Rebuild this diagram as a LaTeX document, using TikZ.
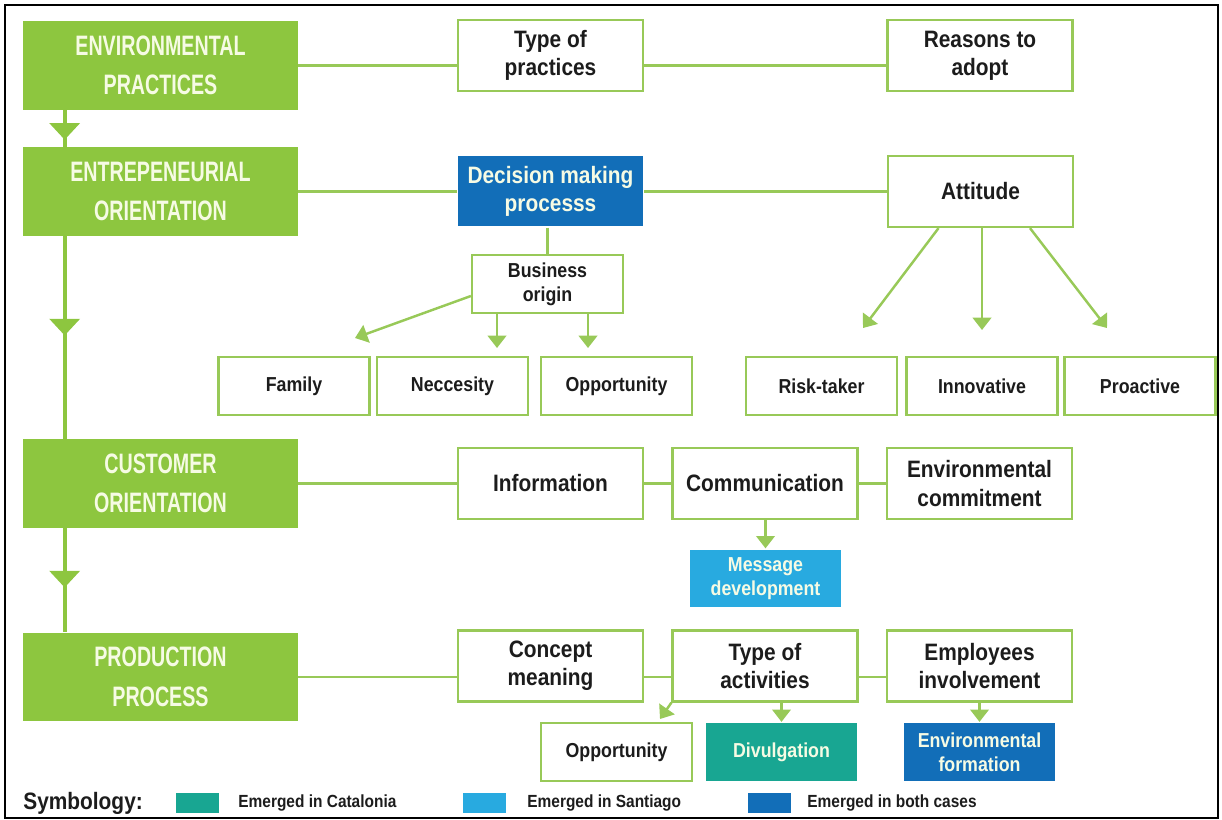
\documentclass[tikz,border=0pt]{standalone}
\usepackage{fontspec}
\usepackage{xcolor}
\usetikzlibrary{arrows.meta, positioning, calc, decorations.markings}
\newfontfamily\headfont[FakeStretch=0.7]{Liberation Sans}
\newfontfamily\boxfont[FakeStretch=0.88]{Liberation Sans}
\definecolor{leafgreen}{RGB}{141, 198, 63}
\definecolor{boxgreen}{RGB}{152, 201, 88}
\definecolor{headtext}{RGB}{246, 251, 228}
\definecolor{inkgray}{RGB}{28, 28, 28}
\definecolor{bothblue}{RGB}{18, 110, 184}
\definecolor{skyblue}{RGB}{40, 170, 224}
\definecolor{catteal}{RGB}{24, 166, 146}
\tikzset{
    header/.style={rectangle, fill=leafgreen, minimum width=5.5cm,
                   minimum height=1.78cm, align=center, text=headtext,
                   font=\headfont\bfseries\fontsize{16}{22.5}\selectfont,
                   inner sep=0pt},
    mainbox/.style={rectangle, draw=boxgreen, line width=1.3pt, fill=white,
                    minimum width=3.7cm, minimum height=1.42cm, align=center,
                    text=inkgray, inner sep=0pt,
                    font=\boxfont\bfseries\fontsize{13.5}{16}\selectfont},
    subbox/.style={mainbox, minimum width=3.02cm, minimum height=1.16cm,
                   font=\boxfont\bfseries\fontsize{11.5}{13.5}\selectfont},
    colbox/.style={subbox, draw=none, fill=#1, text=headtext},
    swatch/.style={rectangle, fill=#1, minimum width=0.86cm,
                   minimum height=0.4cm, inner sep=0pt},
    legtext/.style={anchor=west, text=inkgray, inner sep=0pt,
                    font=\boxfont\bfseries\fontsize{10}{12}\selectfont},
    link/.style={draw=boxgreen, line width=1.4pt},
    arr/.style={link, -{Triangle[width=10.5pt,length=7pt]}},
    mainflow/.style={draw=leafgreen, line width=2.3pt, postaction={decorate},
                     decoration={markings, mark=at position #1 with
                     {\arrow[leafgreen]{Triangle[width=17pt,length=9.5pt]}}}},
}

\begin{document}
\begin{tikzpicture}[x=0.02cm, y=-0.02cm]
    \useasboundingbox (0,0) rectangle (1222,820);
    \draw[line width=1.4pt] (5,5) rectangle (1218,818);

    % Main column
    \node[header] (env) at (160.5,65.5) {ENVIRONMENTAL\\PRACTICES};
    \node[header] (ento) at (160.5,191.5) {ENTREPENEURIAL\\ORIENTATION};
    \node[header] (cust) at (160.5,483.5) {CUSTOMER\\ORIENTATION};
    \node[header] (prod) at (160.5,677) {PRODUCTION\\PROCESS};

    \draw[mainflow=0.81] ([xshift=0.84cm]env.south west) -- ([xshift=0.84cm]ento.north west);
    \draw[mainflow=0.49] ([xshift=0.84cm]ento.south west) -- ([xshift=0.84cm]cust.north west);
    \draw[mainflow=0.57] ([xshift=0.84cm]cust.south west) -- ([xshift=0.84cm]prod.north west);

    % Environmental practices
    \node[mainbox] (tp) at (550.5,55.5) {Type of\\practices};
    \node[mainbox] (rta) at (980,55.5) {Reasons to\\adopt};
    \draw[link] (env.east) -- (env.east -| tp.west);
    \draw[link] (env.east -| tp.east) -- (env.east -| rta.west);

    % Entrepreneurial orientation
    \node[mainbox, draw=none, fill=bothblue, text=headtext] (dm) at (550.5,191)
        {Decision making\\processs};
    \node[mainbox] (att) at (980.5,191.5) {Attitude};
    \draw[link] (ento.east) -- (ento.east -| dm.west);
    \draw[link] (ento.east -| dm.east) -- (ento.east -| att.west);

    \node[subbox] (bo) at (547.5,284) {Business\\origin};
    \draw[link] (bo.north |- dm.south) -- (bo.north);

    \node[subbox] (fam) at (294,386) {Family};
    \node[subbox] (nec) at (452.5,386) {Neccesity};
    \node[subbox] (opa) at (616.5,386) {Opportunity};
    \coordinate (famtip) at (355,338);
    \coordinate (nectip) at (497,348);
    \coordinate (opatip) at (588,348);
    \draw[arr] ([yshift=-0.24cm]bo.west) -- (famtip);
    \draw[arr] (nectip |- bo.south) -- (nectip);
    \draw[arr] (opatip |- bo.south) -- (opatip);

    \node[subbox] (risk) at (821.5,386) {Risk-taker};
    \node[subbox] (inno) at (982,386) {Innovative};
    \node[subbox] (pro) at (1140,386) {Proactive};
    \coordinate (risktip) at (863,328);
    \coordinate (innotip) at (982,330);
    \coordinate (protip) at (1107,328);
    \draw[arr] ([xshift=-0.84cm]att.south) -- (risktip);
    \draw[arr] (innotip |- att.south) -- (innotip);
    \draw[arr] ([xshift=0.99cm]att.south) -- (protip);

    % Customer orientation
    \node[mainbox] (info) at (550.5,483.5) {Information};
    \node[mainbox] (com) at (765,483.5) {Communication};
    \node[mainbox] (envc) at (979.5,483.5) {Environmental\\commitment};
    \draw[link] (cust.east) -- (info.west);
    \draw[link] (info.east) -- (com.west);
    \draw[link] (com.east) -- (envc.west);

    \node[colbox=skyblue] (msg) at (765.5,578.5) {Message\\development};
    \draw[arr] (msg.north |- com.south) -- (msg.north);

    % Production process
    \node[mainbox] (cm) at (550.5,666) {Concept\\meaning};
    \node[mainbox] (ta) at (765,666) {Type of\\activities};
    \node[mainbox] (ei) at (979.5,666) {Employees\\involvement};
    \draw[link] (prod.east) -- (prod.east -| cm.west);
    \draw[link] (prod.east -| cm.east) -- (prod.east -| ta.west);
    \draw[link] (prod.east -| ta.east) -- (prod.east -| ei.west);

    \node[subbox] (opb) at (616.5,752) {Opportunity};
    \node[colbox=catteal] (div) at (781.5,752) {Divulgation};
    \node[colbox=bothblue] (ef) at (979.5,752) {Environmental\\formation};
    \coordinate (opbtip) at (660,719);
    \draw[arr] (ta.south west) -- (opbtip);
    \draw[arr] (div.north |- ta.south) -- (div.north);
    \draw[arr] (ef.north |- ei.south) -- (ef.north);

    % Symbology
    \node[legtext, font=\boxfont\bfseries\fontsize{13.5}{15}\selectfont] (sym)
        at (23,803) {Symbology:};
    \node[swatch=catteal] (swcat) at (197.5,803) {};
    \node[legtext] (lgcat) at (238,803) {Emerged in Catalonia};
    \node[swatch=skyblue] (swsan) at (484,803) {};
    \node[legtext] (lgsan) at (527,803) {Emerged in Santiago};
    \node[swatch=bothblue] (swboth) at (769.5,803) {};
    \node[legtext] (lgboth) at (807,803) {Emerged in both cases};
\end{tikzpicture}
\end{document}
